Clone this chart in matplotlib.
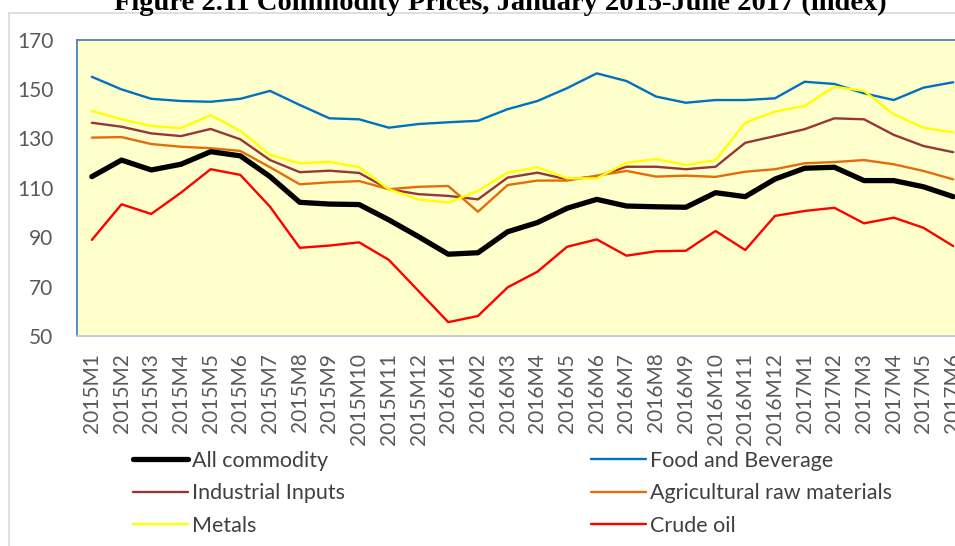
import matplotlib
matplotlib.use("Agg")
import matplotlib.pyplot as plt
from matplotlib.patches import Rectangle

months = ["2015M1", "2015M2", "2015M3", "2015M4", "2015M5", "2015M6", "2015M7", "2015M8",
          "2015M9", "2015M10", "2015M11", "2015M12", "2016M1", "2016M2", "2016M3", "2016M4",
          "2016M5", "2016M6", "2016M7", "2016M8", "2016M9", "2016M10", "2016M11", "2016M12",
          "2017M1", "2017M2", "2017M3", "2017M4", "2017M5", "2017M6"]

all_commodity = [114.5, 121.2, 117.2, 119.5, 124.6, 122.9, 114.5, 104.1, 103.4, 103.2,
                 97.0, 90.2, 83.1, 83.7, 92.2, 95.9, 101.7, 105.3, 102.6, 102.3,
                 102.1, 108.0, 106.4, 113.5, 117.9, 118.3, 112.9, 112.9, 110.4, 106.4]
food_beverage = [154.9, 149.8, 146.0, 145.1, 144.8, 146.0, 149.2, 143.5, 138.1, 137.7,
                 134.3, 135.8, 136.5, 137.1, 141.8, 145.1, 150.3, 156.3, 153.2, 146.9,
                 144.4, 145.5, 145.5, 146.2, 152.9, 152.0, 148.2, 145.5, 150.5, 152.7]
industrial_inputs = [136.3, 134.7, 132.0, 130.9, 133.8, 129.6, 121.2, 116.3, 116.9, 116.0,
                     109.4, 107.4, 106.7, 105.3, 114.1, 116.1, 113.4, 114.5, 118.5, 118.5,
                     117.5, 118.5, 128.2, 130.9, 133.7, 138.1, 137.7, 131.4, 126.9, 124.4]
agri_raw = [130.3, 130.5, 127.7, 126.6, 126.0, 124.9, 118.3, 111.4, 112.2, 112.7,
            109.4, 110.4, 110.7, 100.3, 111.1, 112.9, 112.9, 114.9, 116.8, 114.5,
            114.9, 114.4, 116.5, 117.5, 119.9, 120.4, 121.2, 119.5, 116.8, 113.4]
metals = [141.1, 137.7, 135.0, 134.1, 139.4, 133.0, 123.3, 119.9, 120.5, 118.3,
          109.4, 105.3, 104.0, 108.7, 116.1, 118.3, 113.8, 113.8, 120.1, 121.6,
          119.2, 121.2, 136.3, 140.8, 143.1, 150.9, 149.2, 139.7, 134.3, 132.4]
crude_oil = [88.9, 103.3, 99.4, 108.0, 117.5, 115.2, 102.3, 85.7, 86.6, 87.9,
             80.8, 68.2, 55.6, 58.1, 69.7, 76.0, 86.1, 89.1, 82.5, 84.3,
             84.5, 92.5, 84.8, 98.6, 100.6, 101.9, 95.6, 97.9, 93.8, 86.4]

y_ticks = [50, 70, 90, 110, 130, 150, 170]
title = "Figure 2.11 Commodity Prices, January 2015-June 2017 (index)"

W, H = 955, 546
fig = plt.figure(figsize=(W / 100, H / 100), dpi=100)

# outer chart border
fig.patches.append(Rectangle((9 / W, -0.01), 1.05, 1 - 13 / H + 0.01, transform=fig.transFigure,
                             facecolor="none", edgecolor="#D9D9D9", lw=1.2, zorder=0))

ax = fig.add_axes([77 / W, 1 - 336 / H, (968 - 77) / W, (336 - 39.5) / H])
ax.set_facecolor("#FFFFCC")

x = list(range(len(months)))
series = [
    ("All commodity", all_commodity, "#000000", 3.8),
    ("Food and Beverage", food_beverage, "#0070C0", 1.7),
    ("Industrial Inputs", industrial_inputs, "#953735", 1.7),
    ("Agricultural raw materials", agri_raw, "#E46C0A", 1.7),
    ("Metals", metals, "#FFFF00", 1.7),
    ("Crude oil", crude_oil, "#FF0000", 1.7),
]
handles = {}
for name, vals, col, lw in series:
    (h,) = ax.plot(x, vals, color=col, lw=lw, label=name, solid_capstyle="round",
                   solid_joinstyle="round")
    handles[name] = h
handles["All commodity"].set_zorder(5)

ax.set_xlim(-0.5, len(months) - 0.5)
ax.set_ylim(50, 170)
ax.set_yticks(y_ticks)
ax.set_xticks(x)
ax.set_xticklabels(months, rotation=90)

for lab in ax.get_xticklabels() + ax.get_yticklabels():
    lab.set_fontfamily("Lato")
    lab.set_fontsize(15)
    lab.set_color("#595959")
ax.tick_params(axis="both", length=0)
ax.tick_params(axis="y", pad=17)
ax.tick_params(axis="x", pad=12)

for s in ["top", "left"]:
    ax.spines[s].set_color("#4F81BD")
    ax.spines[s].set_linewidth(1.3)
for s in ["bottom", "right"]:
    ax.spines[s].set_color("#B9C9DC")
    ax.spines[s].set_linewidth(1.3)

fig.text(500 / W, 1 - 10.5 / H, title, ha="center", va="baseline",
         fontfamily="Liberation Serif", fontweight="bold", fontsize=20.5, color="black")

# legend filled column-wise -> rows: (All, Food), (Industrial, Agri), (Metals, Crude)
order = ["All commodity", "Industrial Inputs", "Metals",
         "Food and Beverage", "Agricultural raw materials", "Crude oil"]
leg = fig.legend([handles[n] for n in order], order, loc="upper left",
                 bbox_to_anchor=(133 / W, 1 - 451 / H), ncol=2, frameon=False,
                 prop={"family": "Lato", "size": 15.5}, handlelength=2.55,
                 handletextpad=0.2, columnspacing=11.4, labelspacing=0.57,
                 borderpad=0, borderaxespad=0)
for t in leg.get_texts():
    t.set_color("#404040")

fig.savefig("out.png", dpi=100)
